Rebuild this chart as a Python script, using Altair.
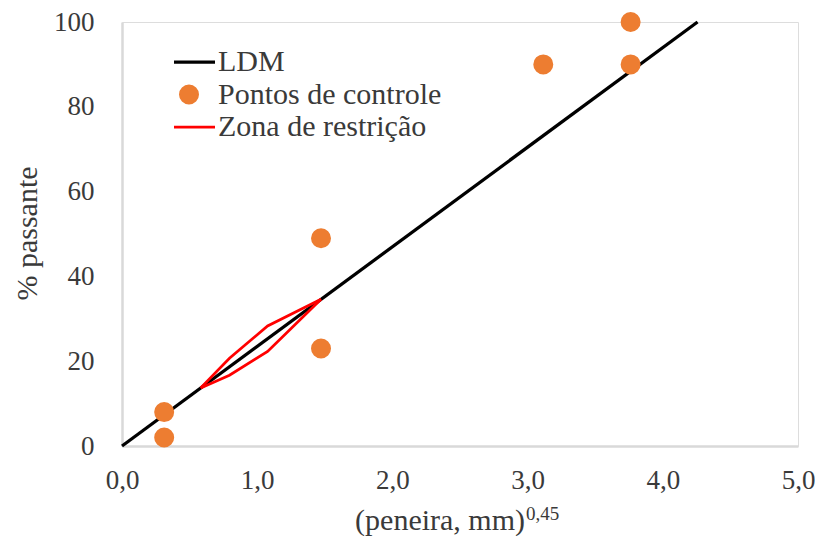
import altair as alt
import pandas as pd

# ---- data ----
series = ["LDM", "Pontos de controle", "Zona de restrição"]
colors = ["#000000", "#ED7D31", "#FF0000"]

ldm_x = [0.0, 4.257]
ldm_y = [0.0, 100.0]

ctrl_x = [0.312, 0.312, 1.472, 1.472, 3.116, 3.762, 3.762]
ctrl_y = [2.0, 8.0, 23.0, 49.0, 90.0, 90.0, 100.0]

zone_x = [0.582, 0.795, 1.077, 1.472]
zone_upper = [13.7, 20.7, 28.3, 34.6]
zone_lower = [13.7, 16.7, 22.3, 34.6]

x_ticks = [0, 1, 2, 3, 4, 5]
y_ticks = [0, 20, 40, 60, 80, 100]

x_title = "(peneira, mm)"
x_title_sup = "0,45"
y_title = "% passante"

FONT = "Liberation Serif"
TXT = "#3A3A3A"

# ---- tables ----
rows = []
for x, y in zip(ldm_x, ldm_y):
    rows.append({"x": x, "y": y, "serie": "LDM", "linha": "ldm"})
for x, y in zip(zone_x, zone_upper):
    rows.append({"x": x, "y": y, "serie": "Zona de restrição", "linha": "zs"})
for x, y in zip(zone_x, zone_lower):
    rows.append({"x": x, "y": y, "serie": "Zona de restrição", "linha": "zi"})
lines_df = pd.DataFrame(rows)
ldm_df = lines_df[lines_df["linha"] == "ldm"]
zone_df = lines_df[lines_df["linha"] != "ldm"]

pts_df = pd.DataFrame({"x": ctrl_x, "y": ctrl_y, "serie": "Pontos de controle"})

LINE_SYM = "M-5.2,0H5.2"
color_scale = alt.Scale(domain=series, range=colors)
shape_scale = alt.Scale(domain=series, range=[LINE_SYM, "circle", LINE_SYM])
sw_scale = alt.Scale(type="ordinal", domain=series, range=[3.25, 10, 2.75])

legend = alt.Legend(
    title=None,
    orient="none",
    legendX=52,
    legendY=25,
    padding=0,
    labelFont=FONT,
    labelFontSize=30,
    labelColor=TXT,
    labelOffset=14,
    labelLimit=500,
    clipHeight=30,
    rowPadding=2.5,
    symbolOpacity=1,
    symbolSize=100,
)

x_axis = alt.Axis(
    values=x_ticks,
    labelExpr="replace(format(datum.value, '.1f'), '.', ',')",
    title=None,
    ticks=False,
    grid=False,
    labelFlush=False,
    labelFont=FONT,
    labelFontSize=27,
    labelColor=TXT,
    labelPadding=21,
    domainColor="#D9D9D9",
    domainWidth=2.5,
)
y_axis = alt.Axis(
    values=y_ticks,
    title=y_title,
    ticks=False,
    grid=False,
    labelFlush=False,
    labelFont=FONT,
    labelFontSize=27,
    labelColor=TXT,
    labelPadding=28,
    domainColor="#D9D9D9",
    domainWidth=2.5,
    titleFont=FONT,
    titleFontSize=30,
    titleFontWeight="normal",
    titleColor=TXT,
    titleAngle=270,
    titleAlign="center",
    titleBaseline="middle",
    titleX=-95,
    titleY=211,
)

xs = alt.Scale(domain=[0, 5], nice=False)
ys = alt.Scale(domain=[0, 100], nice=False)

ldm = alt.Chart(ldm_df).mark_line().encode(
    x=alt.X("x:Q", scale=xs, axis=x_axis),
    y=alt.Y("y:Q", scale=ys, axis=y_axis),
    color=alt.Color("serie:N", scale=color_scale, legend=legend),
    strokeWidth=alt.StrokeWidth("serie:N", scale=sw_scale, legend=legend),
    detail="linha:N",
)

zone = alt.Chart(zone_df).mark_line().encode(
    x=alt.X("x:Q", scale=xs),
    y=alt.Y("y:Q", scale=ys),
    color=alt.Color("serie:N", scale=color_scale, legend=legend),
    strokeWidth=alt.StrokeWidth("serie:N", scale=sw_scale, legend=legend),
    detail="linha:N",
)

pts = alt.Chart(pts_df).mark_point(filled=False, opacity=1, size=100).encode(
    x=alt.X("x:Q", scale=xs),
    y=alt.Y("y:Q", scale=ys),
    color=alt.Color("serie:N", scale=color_scale, legend=legend),
    shape=alt.Shape("serie:N", scale=shape_scale, legend=legend),
    strokeWidth=alt.StrokeWidth("serie:N", scale=sw_scale, legend=legend),
)

t1 = alt.Chart(pd.DataFrame({"t": [x_title]})).mark_text(
    align="right", baseline="alphabetic", font=FONT, fontSize=30, color=TXT
).encode(x=alt.value(403), y=alt.value(508), text="t:N")

t2 = alt.Chart(pd.DataFrame({"t": [x_title_sup]})).mark_text(
    align="left", baseline="alphabetic", font=FONT, fontSize=19, color=TXT
).encode(x=alt.value(404), y=alt.value(498), text="t:N")

chart = (
    alt.layer(ldm, zone, pts, t1, t2)
    .properties(
        width=676,
        height=424,
        autosize=alt.AutoSizeParams(type="none"),
        padding={"left": 114, "top": 14, "right": 17, "bottom": 90},
    )
    .configure_view(stroke="black", strokeWidth=2)
    .configure(background="white")
)

chart.save("out.html", embed_options={"renderer": "svg", "actions": False})
